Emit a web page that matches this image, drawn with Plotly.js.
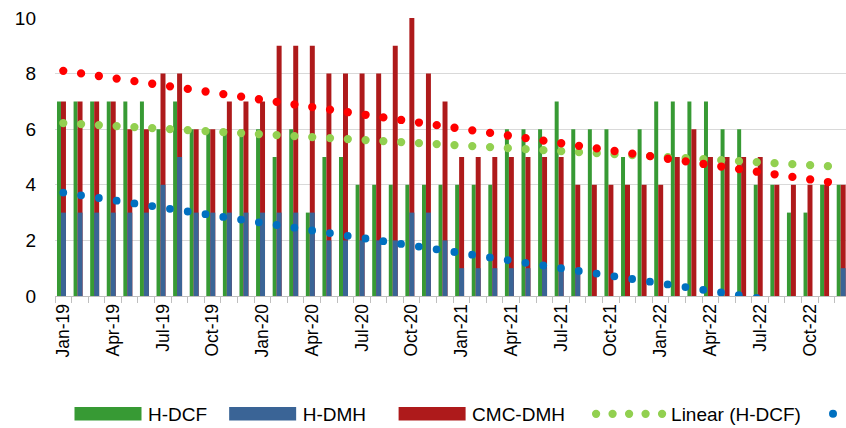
<!DOCTYPE html>
<html><head><meta charset="utf-8">
<script src="https://cdn.plot.ly/plotly-3.0.1.min.js"></script>
<style>
html,body{margin:0;padding:0;background:#fff;}
#chart{width:846px;height:428px;}
.scatterlayer .js-line{stroke-linecap:round;}
.legend .js-line{stroke-linecap:round; stroke-dasharray:0 16.5px !important; stroke-width:8.3px !important;}
.legend2 .js-line{stroke-linecap:round; stroke-width:8px !important;}
</style></head><body><div id="chart"></div>
<script>
const months = ["Jan-19","Feb-19","Mar-19","Apr-19","May-19","Jun-19","Jul-19","Aug-19","Sep-19","Oct-19","Nov-19","Dec-19",
  "Jan-20","Feb-20","Mar-20","Apr-20","May-20","Jun-20","Jul-20","Aug-20","Sep-20","Oct-20","Nov-20","Dec-20",
  "Jan-21","Feb-21","Mar-21","Apr-21","May-21","Jun-21","Jul-21","Aug-21","Sep-21","Oct-21","Nov-21","Dec-21",
  "Jan-22","Feb-22","Mar-22","Apr-22","May-22","Jun-22","Jul-22","Aug-22","Sep-22","Oct-22","Nov-22","Dec-22"];
const tickLabels = ["Jan-19","Apr-19","Jul-19","Oct-19","Jan-20","Apr-20","Jul-20","Oct-20",
  "Jan-21","Apr-21","Jul-21","Oct-21","Jan-22","Apr-22","Jul-22","Oct-22"];
const hDCF   = [7,7,7,7,7,7,6,7,6,6,6,6, 6,5,6,3,5,5,4,4,4,4,4,4, 4,4,4,6,6,6,7,6,6,6,5,6, 7,7,7,7,6,6,4,4,3,3,4,4];
const hDMH   = [3,3,3,3,3,3,4,5,3,3,3,3, 3,3,3,3,2,2,2,2,2,3,3,2, 1,1,1,1,1,1,1,1,0,0,0,0, 0,0,0,0,0,0,0,0,0,0,0,1];
const cmcDMH = [7,7,7,7,6,6,8,8,6,6,7,7, 7,9,9,9,8,8,8,8,9,10,8,7, 5,5,5,5,5,5,5,4,4,4,4,4, 4,5,6,5,5,5,5,4,4,4,4,4];
// linear trend lines, values read at first and last month
const trendMonths = [months[0], months[months.length-1]];
const trendHDCF   = [6.22, 4.64];
const trendHDMH   = [3.72, -0.54];
const trendCMCDMH = [8.10, 4.02];

const FONT = "Liberation Sans, Arial, sans-serif";
const ticktext = months.map(m => tickLabels.includes(m) ? m : "");
const NB = "\u00a0";

const traces = [
  {type:"bar", name:"H-DCF" + NB.repeat(2), x:months, y:hDCF, marker:{color:"#379A34", line:{width:0}},
   offset:-0.38, width:0.24, legendrank:1, hoverinfo:"skip"},
  {type:"bar", name:"CMC-DMH" + NB.repeat(4), x:months, y:cmcDMH, marker:{color:"#AE1A1B", line:{width:0}},
   offset:-0.14, width:0.30, legendrank:3, hoverinfo:"skip"},
  {type:"bar", name:"H-DMH" + NB.repeat(4), x:months, y:hDMH, marker:{color:"#3A6496", line:{width:0}},
   offset:-0.14, width:0.30, legendrank:2, hoverinfo:"skip"},
  {type:"scatter", mode:"lines", name:"Linear (H-DCF)", x:trendMonths, y:trendHDCF,
   line:{color:"#92D050", width:8.3, dash:"0px,17.81px"}, legendrank:4, hoverinfo:"skip"},
  {type:"scatter", mode:"lines", name:"", x:trendMonths, y:trendHDMH, legend:"legend2",
   line:{color:"#0070C0", width:7.8, dash:"0px,17.98px"}, hoverinfo:"skip"},
  {type:"scatter", mode:"lines", name:"Linear (CMC-DMH)", x:trendMonths, y:trendCMCDMH, showlegend:false,
   line:{color:"#FF0000", width:8.3, dash:"0px,17.97px"}, hoverinfo:"skip"}
];

const layout = {
  width:846, height:428,
  margin:{l:55, r:0, t:18, b:132},
  paper_bgcolor:"#fff", plot_bgcolor:"#fff",
  barmode:"overlay",
  font:{family:FONT, color:"#000"},
  xaxis:{type:"category", categoryorder:"array", categoryarray:months,
    range:[-0.5, 47.18], tickmode:"array", tickvals:months, ticktext:ticktext,
    tickson:"boundaries", ticks:"outside", ticklen:6, tickcolor:"#BFBFBF", tickwidth:1,
    showline:true, linecolor:"#BFBFBF", linewidth:1, showgrid:false, zeroline:false,
    tickangle:-90, tickfont:{family:FONT, size:17.5, color:"#000"}},
  yaxis:{range:[0,10], tickmode:"linear", tick0:0, dtick:2, showgrid:true, gridcolor:"#D9D9D9",
    gridwidth:1, zeroline:false, showline:false, ticks:"", ticklabelstandoff:18,
    tickfont:{family:FONT, size:19, color:"#000"}},
  showlegend:true,
  legend:{orientation:"h", xref:"container", yref:"container", x:68/846, xanchor:"left",
    y:14/428, yanchor:"middle", itemwidth:70, font:{family:FONT, size:19, color:"#000"},
    bgcolor:"rgba(0,0,0,0)", borderwidth:0},
  legend2:{orientation:"h", xref:"container", yref:"container", x:1, xanchor:"right",
    y:14/428, yanchor:"middle", itemwidth:30, font:{family:FONT, size:19, color:"#000"},
    bgcolor:"rgba(0,0,0,0)", borderwidth:0}
};

Plotly.newPlot("chart", traces, layout, {staticPlot:true, displayModeBar:false}).then(gd => {
  // wide legend swatches like the original
  gd.querySelectorAll("g.legend g.legendpoints path").forEach(p => {
    p.setAttribute("d", "M-33.5,-6.75h67v13.5h-67z");
  });
  gd.querySelectorAll("g.legend g.legendlines path").forEach(p => {
    p.setAttribute("d", "M5,0h67");
    p.style.setProperty("stroke-dasharray", "0px,16.5px", "important");
  });
  const p = gd.querySelector("g.legend2 .js-line");
  if (p) {
    const ctm = p.getScreenCTM();
    const lx = 833 - ctm.e;
    p.setAttribute("d", "M" + lx.toFixed(1) + ",0h0.01");
  }
});
</script></body></html>
